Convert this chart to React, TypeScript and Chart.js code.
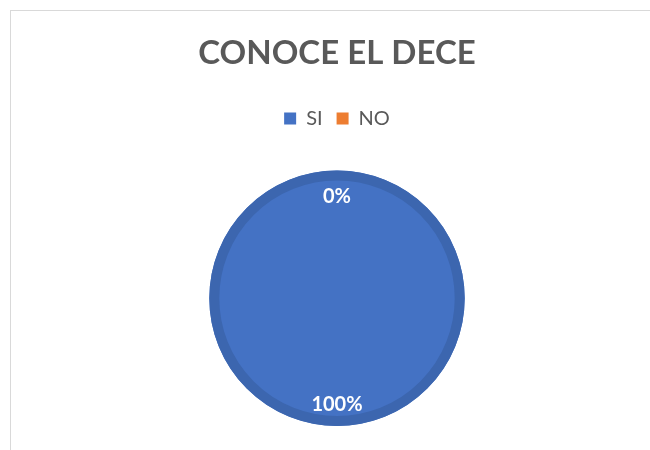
import React, { useEffect, useRef } from "react";
import { Chart, registerables } from "chart.js";

Chart.register(...registerables);

const categories = ["SI", "NO"];
const values = [100, 0];
const percentLabels = ["100%", "0%"];
const colors = ["#4472C4", "#ED7D31"];
const ringColor = "#3C66AF";
const titleText = "CONOCE EL DECE";
const FONT = "Lato, 'Open Sans', sans-serif";
const labelRadius = [0.835, 0.8];

const ringAndLabels = {
  id: "ringAndLabels",
  beforeLayout(chart: any) {
    const lg = chart.legend;
    if (lg && !lg._spaced) {
      const orig = lg.fit.bind(lg);
      lg.fit = function () {
        orig();
        this.height += 32;
      };
      lg._spaced = true;
    }
  },
  afterDatasetsDraw(chart: any) {
    const meta = chart.getDatasetMeta(0);
    const ctx = chart.ctx;
    const first = meta.data[0];
    if (!first) return;
    const p = first.getProps(["x", "y", "outerRadius"], true);
    ctx.save();
    ctx.beginPath();
    ctx.arc(p.x, p.y, p.outerRadius - 5, 0, Math.PI * 2);
    ctx.lineWidth = 10;
    ctx.strokeStyle = ringColor;
    ctx.stroke();
    ctx.fillStyle = "#ffffff";
    ctx.font = `bold 20px ${FONT}`;
    ctx.textAlign = "center";
    ctx.textBaseline = "middle";
    meta.data.forEach((arc: any, i: number) => {
      const a = arc.getProps(["x", "y", "startAngle", "endAngle", "outerRadius"], true);
      const mid = (a.startAngle + a.endAngle) / 2;
      const r = a.outerRadius * labelRadius[i];
      ctx.fillText(percentLabels[i], a.x + Math.cos(mid) * r, a.y + Math.sin(mid) * r);
    });
    ctx.restore();
  },
};

export default function App() {
  const ref = useRef<HTMLCanvasElement>(null);
  useEffect(() => {
    if (!ref.current) return;
    const chart = new Chart(ref.current, {
      type: "pie",
      data: {
        labels: categories,
        datasets: [
          {
            data: values,
            backgroundColor: colors,
            borderWidth: 0,
          },
        ],
      },
      options: {
        responsive: false,
        animation: false,
        layout: { padding: { left: 24, right: 0, top: 0, bottom: 24 } },
        plugins: {
          title: {
            display: true,
            text: titleText,
            color: "#595959",
            font: { family: FONT, size: 33, weight: "bold" },
            padding: { top: 34, bottom: 21 },
          },
          legend: {
            display: true,
            position: "top",
            labels: {
              color: "#595959",
              font: { family: FONT, size: 20 },
              boxWidth: 12,
              boxHeight: 12,
              padding: 14,
            },
          },
          tooltip: { enabled: false },
        },
      },
      plugins: [ringAndLabels],
    });
    return () => chart.destroy();
  }, []);
  return (
    <div style={{ position: "fixed", left: 0, top: 0, width: 650, height: 450, overflow: "hidden", background: "#fff" }}>
      <div
        style={{
          position: "absolute",
          left: 10,
          top: 10,
          width: 700,
          height: 500,
          border: "1.5px solid #d9d9d9",
          boxSizing: "border-box",
        }}
      />
      <canvas ref={ref} width={650} height={450} style={{ position: "absolute", left: 0, top: 0 }} />
    </div>
  );
}
